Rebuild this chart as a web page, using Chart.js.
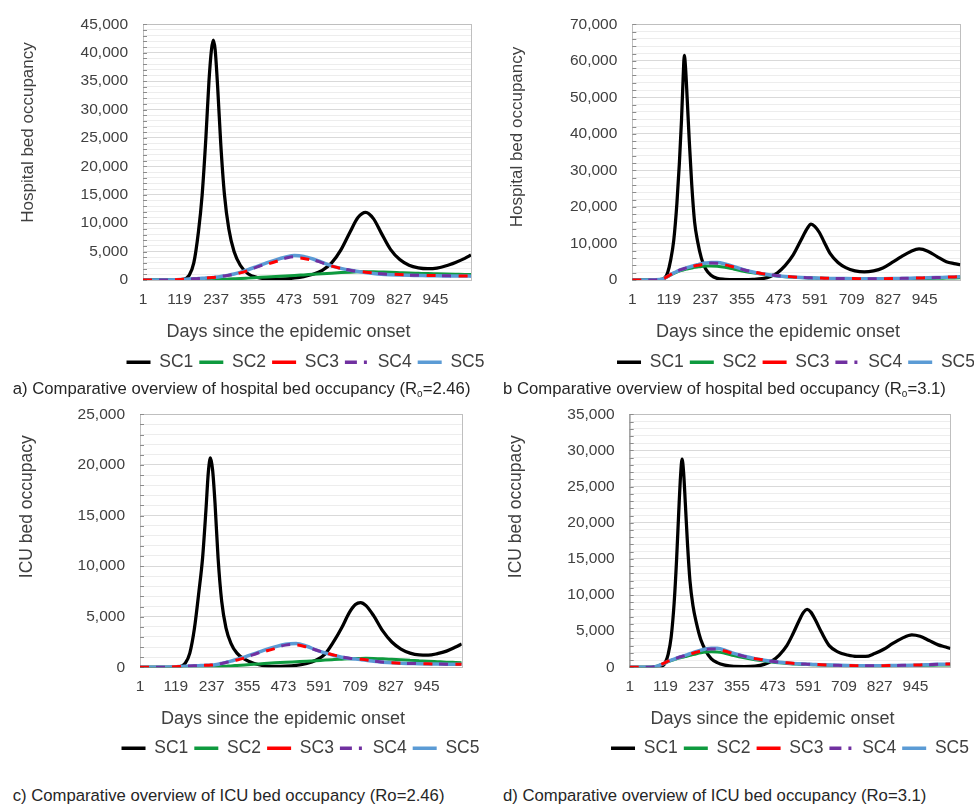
<!DOCTYPE html>
<html><head><meta charset="utf-8">
<script src="https://cdn.jsdelivr.net/npm/chart.js@4.4.1/dist/chart.umd.min.js"></script>
<style>
html,body{margin:0;padding:0;background:#fff;overflow:hidden;width:974px;height:808px;}
.panel{position:absolute;}
.cap{position:absolute;font-family:"Liberation Sans",Arial,sans-serif;font-size:16.7px;line-height:16.7px;color:#262626;white-space:nowrap;}
.cap sub{font-size:10px;vertical-align:baseline;position:relative;top:3px;}
</style></head><body>
<div class="panel" style="left:0;top:0;width:611px;height:381px"><canvas id="ca"></canvas></div>
<div class="panel" style="left:500px;top:0;width:592px;height:381px"><canvas id="cb"></canvas></div>
<div class="panel" style="left:0;top:390px;width:601px;height:377px"><canvas id="cc"></canvas></div>
<div class="panel" style="left:500px;top:390px;width:580px;height:377px"><canvas id="cd"></canvas></div>
<div class="cap" style="left:12.7px;top:381px">a) Comparative overview of hospital bed occupancy (R<sub>o</sub>=2.46)</div>
<div class="cap" style="left:503px;top:381px">b Comparative overview of hospital bed occupancy (R<sub>o</sub>=3.1)</div>
<div class="cap" style="left:12.7px;top:787.5px">c) Comparative overview of ICU bed occupancy (Ro=2.46)</div>
<div class="cap" style="left:503px;top:787.5px">d) Comparative overview of ICU bed occupancy (Ro=3.1)</div>
<script>
// ---------- shared labels ----------
const seriesNames = ['SC1', 'SC2', 'SC3', 'SC4', 'SC5'];
const xTickLabels = [1, 119, 237, 355, 473, 591, 709, 827, 945];
const xMinDay = 1;
const xMaxDay = 1060;

// ---------- panel a: hospital beds, Ro = 2.46 ----------
const daysA = [1, 60, 100, 130, 150, 165, 180, 192, 204, 214, 222, 228, 234, 242, 252, 264, 278, 295, 315, 340, 370, 400, 430, 460, 490, 520, 550, 580, 610, 640, 670, 695, 720, 745, 770, 800, 830, 860, 890, 920, 950, 980, 1010, 1040, 1060];
const sc1A = [0, 0, 0, 100, 800, 3000, 8500, 15000, 25000, 35000, 40500, 42200, 40500, 34000, 24000, 15000, 9000, 5000, 2600, 1100, 450, 200, 150, 200, 350, 600, 1000, 1700, 3000, 5300, 8500, 11000, 11900, 10800, 8300, 5400, 3600, 2600, 2150, 2000, 2100, 2500, 3100, 3800, 4400];
const sc2A = [0, 0, 0, 0, 0, 0, 5, 10, 20, 30, 40, 50, 60, 80, 100, 130, 160, 200, 250, 330, 430, 530, 620, 720, 800, 900, 1000, 1100, 1200, 1300, 1380, 1430, 1450, 1440, 1400, 1350, 1290, 1230, 1180, 1130, 1090, 1050, 1010, 970, 950];
const sc3A = [0, 0, 50, 120, 170, 210, 260, 300, 350, 390, 420, 450, 480, 530, 600, 700, 820, 1000, 1250, 1650, 2200, 2750, 3250, 3650, 3900, 3800, 3450, 2950, 2450, 2050, 1750, 1550, 1380, 1250, 1150, 1050, 960, 900, 850, 800, 780, 750, 720, 700, 700];
const sc4A = [0, 0, 45, 115, 165, 205, 255, 295, 345, 385, 415, 445, 480, 535, 610, 715, 840, 1030, 1300, 1720, 2300, 2880, 3400, 3820, 4100, 3980, 3580, 3020, 2470, 2050, 1720, 1510, 1340, 1200, 1090, 990, 920, 860, 820, 780, 760, 735, 710, 695, 690];
const sc5A = [0, 0, 40, 110, 160, 200, 250, 290, 340, 380, 410, 440, 480, 540, 620, 730, 860, 1060, 1350, 1800, 2400, 3000, 3550, 4000, 4300, 4150, 3700, 3100, 2500, 2050, 1700, 1480, 1300, 1150, 1030, 940, 880, 830, 800, 760, 740, 720, 700, 690, 680];
const yMajorA = [0, 5000, 10000, 15000, 20000, 25000, 30000, 35000, 40000, 45000];
const yMinorStepA = 1000;

// ---------- panel b: hospital beds, Ro = 3.1 ----------
const daysB = [1, 60, 90, 105, 115, 125, 135, 145, 153, 160, 165, 169, 173, 178, 185, 193, 202, 212, 224, 238, 255, 275, 300, 330, 360, 390, 420, 445, 470, 495, 520, 545, 565, 578, 590, 605, 620, 640, 665, 690, 720, 750, 780, 810, 840, 870, 900, 927, 955, 985, 1015, 1040, 1060];
const sc1B = [0, 0, 0, 500, 2000, 5500, 11000, 21000, 32000, 44000, 55000, 61500, 58000, 50000, 38000, 26000, 16000, 10500, 6000, 3000, 1300, 450, 200, 100, 100, 150, 350, 900, 2000, 4000, 6800, 10800, 14000, 15300, 14700, 13000, 10500, 7200, 4800, 3400, 2500, 2200, 2500, 3300, 4800, 6400, 7800, 8500, 7900, 6400, 5000, 4500, 4200];
const sc2B = [0, 0, 140, 460, 920, 1380, 1820, 2180, 2440, 2620, 2750, 2840, 2930, 3020, 3150, 3290, 3450, 3580, 3720, 3800, 3820, 3760, 3480, 2950, 2400, 1950, 1550, 1280, 1070, 900, 760, 650, 590, 550, 520, 480, 450, 410, 380, 360, 340, 320, 310, 310, 320, 340, 370, 400, 430, 470, 520, 560, 590];
const sc3B = [0, 0, 150, 500, 1000, 1500, 2000, 2400, 2700, 2900, 3050, 3150, 3250, 3350, 3500, 3650, 3850, 4000, 4200, 4350, 4450, 4450, 4150, 3500, 2800, 2250, 1750, 1450, 1200, 1000, 850, 720, 650, 600, 570, 530, 500, 450, 420, 400, 380, 360, 360, 370, 400, 450, 500, 550, 600, 680, 780, 850, 900];
const sc4B = [0, 0, 140, 480, 970, 1470, 1970, 2380, 2680, 2890, 3040, 3150, 3250, 3370, 3530, 3700, 3920, 4100, 4330, 4500, 4620, 4600, 4270, 3570, 2820, 2230, 1730, 1420, 1180, 980, 830, 710, 640, 590, 560, 520, 490, 445, 415, 395, 375, 358, 358, 368, 398, 445, 495, 545, 595, 675, 770, 840, 890];
const sc5B = [0, 0, 130, 470, 950, 1450, 1950, 2350, 2650, 2880, 3030, 3150, 3260, 3390, 3560, 3750, 3980, 4200, 4450, 4650, 4800, 4780, 4400, 3650, 2850, 2200, 1700, 1380, 1150, 950, 800, 690, 620, 580, 550, 510, 480, 440, 410, 390, 370, 355, 355, 365, 395, 440, 490, 540, 590, 670, 760, 830, 880];
const yMajorB = [0, 10000, 20000, 30000, 40000, 50000, 60000, 70000];
const yMinorStepB = 2000;

// ---------- panel c: ICU beds, Ro = 2.46 ----------
const daysC = [1, 60, 100, 130, 150, 165, 180, 195, 207, 218, 226, 233, 240, 248, 258, 270, 284, 300, 320, 345, 375, 410, 445, 480, 515, 550, 580, 610, 640, 665, 690, 710, 727, 745, 770, 800, 830, 860, 890, 920, 950, 980, 1010, 1040, 1060];
const sc1C = [0, 0, 0, 50, 400, 1400, 3800, 7500, 10800, 15500, 19300, 20700, 19500, 16200, 10800, 6500, 3900, 2400, 1400, 800, 400, 150, 100, 120, 200, 380, 700, 1300, 2600, 3900, 5400, 6200, 6400, 6100, 5100, 3600, 2500, 1800, 1400, 1220, 1200, 1350, 1600, 2000, 2300];
const sc2C = [0, 0, 0, 0, 0, 0, 0, 0, 5, 10, 15, 20, 30, 45, 65, 90, 115, 140, 180, 230, 290, 370, 440, 500, 550, 600, 650, 710, 760, 800, 840, 865, 880, 885, 875, 840, 790, 740, 690, 640, 590, 550, 510, 480, 460];
const sc3C = [0, 0, 30, 80, 110, 130, 150, 170, 185, 200, 210, 220, 235, 260, 300, 370, 460, 560, 720, 920, 1200, 1550, 1850, 2100, 2200, 2000, 1700, 1450, 1200, 1050, 920, 850, 800, 740, 620, 530, 460, 410, 385, 360, 340, 325, 310, 300, 300];
const sc4C = [0, 0, 28, 75, 105, 128, 148, 168, 183, 198, 208, 218, 232, 260, 305, 380, 475, 585, 755, 965, 1260, 1620, 1930, 2190, 2270, 2040, 1710, 1435, 1180, 1025, 900, 830, 780, 720, 605, 520, 452, 405, 380, 355, 336, 322, 308, 298, 298];
const sc5C = [0, 0, 25, 70, 100, 125, 145, 165, 180, 195, 205, 215, 230, 260, 310, 390, 490, 610, 790, 1010, 1320, 1700, 2020, 2280, 2350, 2080, 1720, 1420, 1160, 1000, 880, 810, 760, 700, 590, 510, 445, 400, 375, 350, 332, 318, 305, 295, 295];
const yMajorC = [0, 5000, 10000, 15000, 20000, 25000];
const yMinorStepC = 1000;

// ---------- panel d: ICU beds, Ro = 3.1 ----------
const daysD = [1, 60, 90, 108, 118, 128, 138, 148, 156, 163, 169, 174, 179, 185, 192, 200, 210, 222, 236, 252, 270, 290, 315, 345, 380, 415, 445, 470, 495, 520, 540, 560, 575, 587, 600, 615, 635, 660, 690, 720, 750, 780, 810, 840, 870, 900, 933, 960, 990, 1020, 1045, 1060];
const sc1D = [0, 0, 0, 150, 600, 1800, 4200, 9000, 15000, 21500, 26500, 28800, 27000, 22500, 17000, 12000, 8500, 6000, 3800, 2300, 1200, 650, 300, 120, 100, 150, 400, 850, 1700, 3000, 4600, 6400, 7600, 8000, 7600, 6500, 4800, 3000, 2100, 1700, 1500, 1500, 1900, 2500, 3300, 4000, 4500, 4300, 3700, 3100, 2800, 2600];
const sc2D = [0, 0, 140, 430, 620, 800, 940, 1070, 1180, 1270, 1330, 1380, 1420, 1480, 1560, 1650, 1760, 1880, 2000, 2100, 2150, 2130, 1950, 1620, 1300, 1040, 860, 730, 620, 530, 470, 430, 400, 380, 360, 340, 310, 275, 240, 215, 198, 188, 185, 190, 200, 215, 235, 255, 280, 305, 325, 335];
const sc3D = [0, 0, 150, 450, 650, 850, 1000, 1150, 1280, 1380, 1450, 1500, 1550, 1620, 1720, 1820, 1950, 2100, 2250, 2380, 2450, 2450, 2250, 1850, 1500, 1200, 1000, 850, 720, 620, 550, 500, 460, 440, 420, 400, 360, 320, 280, 250, 230, 220, 220, 230, 250, 270, 300, 330, 370, 410, 440, 450];
const sc4D = [0, 0, 140, 435, 635, 835, 990, 1140, 1270, 1375, 1450, 1505, 1560, 1635, 1740, 1850, 1990, 2150, 2310, 2460, 2540, 2530, 2310, 1880, 1510, 1195, 990, 840, 710, 610, 542, 492, 455, 435, 415, 395, 355, 315, 276, 248, 228, 218, 218, 228, 248, 268, 298, 328, 368, 408, 438, 448];
const sc5D = [0, 0, 130, 420, 620, 820, 980, 1130, 1260, 1370, 1450, 1510, 1570, 1650, 1760, 1880, 2030, 2200, 2380, 2540, 2640, 2620, 2380, 1920, 1520, 1190, 980, 830, 700, 600, 535, 485, 450, 430, 410, 390, 350, 310, 272, 245, 225, 215, 215, 225, 245, 265, 295, 325, 365, 405, 435, 445];
const yMajorD = [0, 5000, 10000, 15000, 20000, 25000, 30000, 35000];
const yMinorStepD = 1000;

// ---------- styles ----------
const FONT = "'Liberation Sans', Arial, sans-serif";
const TEXT = '#404040';
const GRID_MAJOR = '#d9d9d9';
const GRID_MINOR = '#ededed';
const AXIS_COLOR = '#a6a6a6';
const FRAME_COLOR = '#bfbfbf';
// dash: legend sample; plotDash/plotOffset: how the overlapping curves appear in the plot
const STYLE = [
  {color: '#000000', width: 3.25, dash: [], plotDash: [], plotOffset: 0, order: 5},
  {color: '#0e9a3e', width: 3, dash: [], plotDash: [], plotOffset: 0, order: 4},
  {color: '#ff0000', width: 3, dash: [], plotDash: [9, 23], plotOffset: 0, order: 1},
  {color: '#7030a0', width: 3, dash: [12, 7, 3, 7], plotDash: [9, 23], plotOffset: 16, order: 2},
  {color: '#5b9bd5', width: 3.5, dash: [], plotDash: [], plotOffset: 0, order: 3}
];

const framePlugin = {
  id: 'plotFrame',
  beforeDatasetsDraw(chart) {
    const {ctx, chartArea: a, scales} = chart;
    const y = scales.y;
    ctx.save();
    ctx.strokeStyle = FRAME_COLOR;
    ctx.lineWidth = 1;
    ctx.strokeRect(Math.round(a.left) + 0.5, Math.round(a.top) + 0.5, Math.round(a.right) - Math.round(a.left), Math.round(a.bottom) - Math.round(a.top));
    ctx.strokeStyle = '#8c8c8c';
    ctx.beginPath();
    y.ticks.forEach(t => {
      const py = Math.round(y.getPixelForValue(t.value)) + 0.5;
      ctx.moveTo(a.left, py);
      ctx.lineTo(a.left + 4, py);
    });
    ctx.stroke();
    ctx.restore();
  }
};

const textPlugin = {
  id: 'panelText',
  afterDraw(chart, args, o) {
    const ctx = chart.ctx;
    ctx.save();
    ctx.fillStyle = TEXT;
    ctx.textAlign = 'center';
    ctx.textBaseline = 'middle';
    ctx.font = o.xSize + 'px ' + FONT;
    ctx.fillText(o.xTitle, o.xTitleX, o.xTitleY);
    ctx.font = o.ySize + 'px ' + FONT;
    ctx.translate(o.yTitleX, o.yTitleY);
    ctx.rotate(-Math.PI / 2);
    ctx.fillText(o.yTitle, 0, 0);
    ctx.restore();
  }
};

function legendLabels(chart) {
  const items = Chart.defaults.plugins.legend.labels.generateLabels(chart);
  return items.map(it => Object.assign({}, it, {
    lineDash: STYLE[it.datasetIndex].dash,
    lineDashOffset: 0,
    lineWidth: 3.5,
    strokeStyle: STYLE[it.datasetIndex].color,
    fillStyle: STYLE[it.datasetIndex].color,
    pointStyle: 'line'
  })).sort((a, b) => a.datasetIndex - b.datasetIndex);
}

function buildChart(canvasId, p) {
  const yMax = p.yMajor[p.yMajor.length - 1];
  const datasets = p.values.map((vals, i) => {
    const st = STYLE[i];
    const ds = {
      label: seriesNames[i],
      data: p.days.map((d, j) => ({x: d, y: vals[j]})),
      borderColor: st.color,
      backgroundColor: st.color,
      borderWidth: st.width,
      borderDash: st.dash,
      pointRadius: 0,
      pointHoverRadius: 0,
      cubicInterpolationMode: 'monotone',
      fill: false,
      order: st.order,
      xAxisID: 'x',
      yAxisID: 'y'
    };
    if (st.plotDash.length) {
      ds.segment = {borderDash: () => st.plotDash, borderDashOffset: () => st.plotOffset};
    }
    return ds;
  });
  return new Chart(document.getElementById(canvasId), {
    type: 'line',
    data: {datasets},
    options: {
      responsive: true,
      maintainAspectRatio: false,
      animation: false,
      devicePixelRatio: 1,
      events: [],
      layout: {padding: {top: p.padTop, left: 0, right: 0, bottom: 0}},
      scales: {
        x: {
          type: 'linear', position: 'bottom', min: xMinDay, max: xMaxDay,
          afterBuildTicks: s => { s.ticks = xTickLabels.map(v => ({value: v})); },
          afterFit: s => { s.height = p.xAxisH; },
          grid: {display: false, drawTicks: false},
          border: {display: true, color: AXIS_COLOR, width: 1},
          ticks: {autoSkip: false, maxRotation: 0, padding: 10, color: TEXT,
                  font: {family: FONT, size: 15.5}, callback: v => String(v)}
        },
        y: {
          type: 'linear', position: 'left', min: 0, max: yMax,
          afterBuildTicks: s => {
            const t = [];
            for (let v = 0; v <= yMax; v += p.yMinor) t.push({value: v});
            s.ticks = t;
          },
          afterFit: s => { s.width = p.yAxisW; },
          grid: {drawTicks: false, lineWidth: 1,
                 color: c => (c.tick && p.yMajor.includes(c.tick.value)) ? GRID_MAJOR : GRID_MINOR},
          border: {display: true, color: AXIS_COLOR, width: 1},
          ticks: {autoSkip: false, padding: 15, color: TEXT, font: {family: FONT, size: 15.5},
                  callback: v => p.yMajor.includes(v) ? v.toLocaleString('en-US') : ''}
        },
        pad: {
          type: 'linear', position: 'right', display: true,
          grid: {display: false, drawTicks: false}, ticks: {display: false}, border: {display: false},
          afterFit: s => { s.width = p.padRight; }
        }
      },
      plugins: {
        legend: {
          display: true, position: 'bottom', align: 'center',
          labels: {usePointStyle: true, pointStyle: 'line', pointStyleWidth: 24, padding: 6,
                   color: TEXT, font: {family: FONT, size: 17.5}, generateLabels: legendLabels}
        },
        tooltip: {enabled: false},
        panelText: {xTitle: p.xTitle, yTitle: p.yTitle, xTitleX: p.xT[0], xTitleY: p.xT[1],
                    yTitleX: p.yT[0], yTitleY: p.yT[1], xSize: 18, ySize: p.ySize}
      }
    },
    plugins: [framePlugin, textPlugin]
  });
}

const X_TITLE = 'Days since the epidemic onset';
buildChart('ca', {days: daysA, values: [sc1A, sc2A, sc3A, sc4A, sc5A], yMajor: yMajorA, yMinor: yMinorStepA,
  padTop: 18, yAxisW: 143, padRight: 140, xAxisH: 67.5,
  xTitle: X_TITLE, yTitle: 'Hospital bed occupancy', xT: [288.5, 332], yT: [28, 132.5], ySize: 17});
buildChart('cb', {days: daysB, values: [sc1B, sc2B, sc3B, sc4B, sc5B], yMajor: yMajorB, yMinor: yMinorStepB,
  padTop: 18, yAxisW: 132.3, padRight: 131.7, xAxisH: 67.5,
  xTitle: X_TITLE, yTitle: 'Hospital bed occupancy', xT: [278, 332], yT: [17, 137], ySize: 17});
buildChart('cc', {days: daysC, values: [sc1C, sc2C, sc3C, sc4C, sc5C], yMajor: yMajorC, yMinor: yMinorStepC,
  padTop: 20.7, yAxisW: 140, padRight: 139.3, xAxisH: 66.2,
  xTitle: X_TITLE, yTitle: 'ICU bed occupacy', xT: [283, 329.3], yT: [26.7, 116.7], ySize: 17.5});
buildChart('cd', {days: daysD, values: [sc1D, sc2D, sc3D, sc4D, sc5D], yMajor: yMajorD, yMinor: yMinorStepD,
  padTop: 20.7, yAxisW: 129.7, padRight: 129.7, xAxisH: 66.2,
  xTitle: X_TITLE, yTitle: 'ICU bed occupacy', xT: [272.5, 329.3], yT: [16.3, 116.7], ySize: 17.5});
</script>
</body></html>
